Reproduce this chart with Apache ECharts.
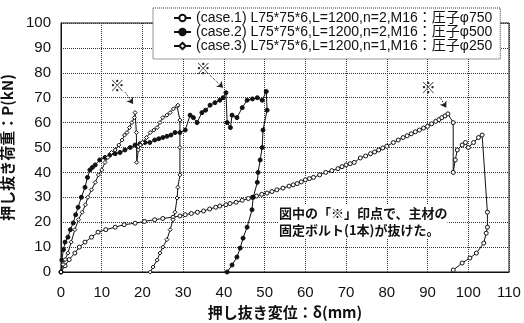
<!DOCTYPE html>
<html>
<head>
    <meta charset="utf-8">
    <title>押し抜き荷重-変位</title>
    <script src="https://cdn.jsdelivr.net/npm/echarts@6/dist/echarts.min.js"></script>
    <style>
        html, body { margin: 0; padding: 0; background: #ffffff; }
        #main { width: 524px; height: 323px; }
    </style>
</head>
<body>
<div id="main"></div>
<script>
    // case.1 : 圧子φ750 (long curve, open circles)
    var case1X = [0, 1, 2, 3.4, 4.5, 5.9, 7.5, 9.1, 11, 13.3, 15.5, 18.2, 20.5, 23, 25, 27.5, 29.2, 30.5, 32, 33.5, 35, 36.5, 38, 39,
        40.5, 41.5, 43, 44.5, 46, 47, 48, 49.3, 50.6, 51.8, 53, 54.5, 56, 57, 58, 59, 60, 61, 62, 63.5, 65, 66.5, 68, 69, 70, 71,
        72, 73.5, 74.8, 76, 77, 78, 79, 80, 81.6, 82.8, 84, 85, 86, 87, 88, 89, 90, 91, 92, 92.8, 93.5, 94.3, 95,
        96.3, 96.3, 96.8, 97.3, 98.5, 99.3, 100, 101.3, 102.5, 103.4,
        104.7, 104.7, 104.4, 103.8, 102, 100.4, 98.5, 96.3];
    var case1Y = [0, 2.5, 5, 7.6, 10, 12, 14, 16, 17, 18, 19, 19.6, 20.3, 21, 21.5, 22, 22.5, 23, 23.5, 24, 24.5, 25.3, 26, 26.5,
        27, 27.5, 28, 28.8, 29.5, 30, 30.5, 31.2, 31.7, 32.3, 33, 33.7, 34.5, 35, 35.5, 36.2, 37, 37.5, 38, 39, 40, 40.7, 41.5, 42.3, 43, 43.5,
        44, 45.8, 46.6, 47.5, 48.2, 49, 49.8, 50.5, 52, 53, 54, 54.7, 55.5, 56.3, 57, 57.8, 58.5, 59.5, 60.5, 61.2, 62, 62.7, 63.5,
        60, 40, 45, 49, 51, 52, 50, 52, 54, 55,
        24, 18, 15.6, 11.6, 7.6, 5.6, 3.6, 0.8];

    // case.2 : 圧子φ500 (filled circles)
    var case2X = [0, 0.2, 0.6, 1, 1.7, 2.3, 3, 3.6, 4.2, 5, 5.9, 6.5, 7.1, 7.7, 8.4, 9.5, 10.8, 12, 13.3, 14.5, 15.7, 17, 18.2,
        19.4, 20.6, 21.8, 23, 24, 25, 26, 27, 28, 29.2, 30.5, 31.7, 32.5, 33.4, 34.6, 35.5, 36.6, 37.8, 39, 39.8, 40.5,
        40.8, 41.6, 42, 43.2, 44.5, 45.7, 47, 48.2, 49.4, 50.4,
        50.6, 49.6, 49.4, 48.9, 48.4, 48.2, 47.2, 46.9, 45.7, 44.7, 44, 43.2, 42, 40.8];
    var case2Y = [0, 4.8, 9, 12, 14, 17, 19.7, 23, 26, 30, 34, 38, 41, 42, 43, 45, 46, 47, 47.5, 48, 49, 50, 51,
        51.5, 52, 52, 53, 53.5, 54, 54.5, 55, 56, 56, 57, 63, 62, 60, 64, 65, 67, 68, 69, 70, 72,
        60, 58, 63, 62, 66, 69, 69.5, 70, 69, 72.5,
        65, 57, 50, 45, 40, 36, 30, 25, 18, 13.6, 9.6, 6, 2.8, 0];

    // case.3 : 圧子φ250 (short curve, open diamonds)
    var case3X = [0, 0.5, 1, 1.7, 2.5, 3.4, 4.3, 5.2, 6, 6.6, 7.5, 8.4, 9.2, 10, 10.8, 11.5, 12.4, 13.3, 14.2, 15, 15.6, 16.2,
        16.8, 17.4, 18, 18.2, 18.5, 18.6, 19, 19.5, 20, 21, 21.9, 22.8, 23.6, 24.3, 25, 26, 26.8, 27.6, 28.5, 28.7,
        29.2, 29.2, 29.2, 28.7, 28.5, 28, 27.5, 26.8, 26, 25, 24.3, 23.6, 22.6, 21.9];
    var case3Y = [0, 3, 5, 7.6, 12, 17, 21, 24, 27, 30, 33, 36, 39, 41, 44, 46, 48, 49, 51, 53, 55, 56,
        58, 60, 62, 64, 56, 44, 49, 51, 52, 54, 56, 57, 58, 60, 62, 63, 64, 65.5, 66.5, 67,
        61, 50, 39, 34, 29.7, 24, 21, 17, 13, 10, 7.6, 4.8, 2, 0];

    var legendNames = [
        '(case.1) L75*75*6,L=1200,n=2,M16：圧子φ750',
        '(case.2) L75*75*6,L=1200,n=2,M16：圧子φ500',
        '(case.3) L75*75*6,L=1200,n=1,M16：圧子φ250'
    ];

    // ※ marks: [text x, text y, arrow from x, from y, arrow to x, to y]
    var noteMarks = [
        [13.8, 75, 15.7, 72.3, 17.7, 67.5],
        [34.9, 82, 36.6, 79, 39.8, 74],
        [90.2, 74, 93.1, 70, 94.6, 66]
    ];
    var noteText = '図中の「※」印点で、主材の\n固定ボルト(1本)が抜けた。';

    function pairs(xs, ys) {
        return xs.map(function (x, i) { return [x, ys[i]]; });
    }

    var chart = echarts.init(document.getElementById('main'));
    var font = '"Liberation Sans", "Noto Sans CJK JP", Arial, sans-serif';
    var cjk = '"Noto Sans CJK JP", "Liberation Sans", sans-serif';

    function lineSeries(name, data, symbol, fill) {
        return {
            name: name,
            type: 'line',
            data: data,
            symbol: symbol,
            symbolSize: 4,
            showAllSymbol: true,
            animation: false,
            lineStyle: { color: '#111', width: 1 },
            itemStyle: { color: fill, borderColor: '#111', borderWidth: 1 }
        };
    }

    var series = [
        lineSeries(legendNames[0], pairs(case1X, case1Y), 'circle', '#fff'),
        lineSeries(legendNames[1], pairs(case2X, case2Y), 'circle', '#111'),
        lineSeries(legendNames[2], pairs(case3X, case3Y), 'diamond', '#fff')
    ];

    // ※ marks and arrows
    series.push({
        type: 'line',
        data: [],
        silent: true,
        animation: false,
        markPoint: {
            symbol: 'circle',
            symbolSize: 0,
            label: { show: true, formatter: '※', color: '#222', fontSize: 15, fontFamily: cjk },
            data: noteMarks.map(function (m) { return { coord: [m[0], m[1]] }; })
        },
        markLine: {
            symbol: ['none', 'arrow'],
            symbolSize: 6,
            label: { show: false },
            lineStyle: { color: '#222', type: 'dotted', width: 1 },
            data: noteMarks.map(function (m) {
                return [{ coord: [m[2], m[3]] }, { coord: [m[4], m[5]] }];
            })
        }
    });

    var option = {
        backgroundColor: '#fff',
        animation: false,
        grid: {
            left: 61, right: 15, top: 23, bottom: 51,
            outerBoundsMode: 'none',
            show: true, borderColor: '#111', borderWidth: 1
        },
        legend: {
            data: legendNames,
            orient: 'vertical',
            left: 153,
            top: 8,
            padding: [3, 8, 6, 20],
            itemWidth: 17,
            itemHeight: 8,
            itemGap: 0,
            backgroundColor: '#fff',
            borderColor: '#333',
            borderWidth: 1,
            borderType: 'dotted',
            textStyle: { color: '#111', fontSize: 14, fontFamily: font, lineHeight: 14 }
        },
        xAxis: {
            type: 'value',
            min: 0, max: 110, interval: 10,
            name: '押し抜き変位：δ(mm)',
            nameLocation: 'middle',
            nameGap: 32,
            nameTextStyle: { color: '#111', fontSize: 15, fontWeight: 'bold', fontFamily: cjk },
            axisLine: { lineStyle: { color: '#111' } },
            axisTick: { show: false },
            axisLabel: { color: '#111', fontSize: 15, fontFamily: font, margin: 13 },
            splitLine: { lineStyle: { color: '#333', type: 'dotted' } }
        },
        yAxis: {
            type: 'value',
            min: 0, max: 100, interval: 10,
            name: '押し抜き荷重：P(kN)',
            nameLocation: 'middle',
            nameGap: 33,
            nameTextStyle: { color: '#111', fontSize: 15, fontWeight: 'bold', fontFamily: cjk },
            axisLine: { show: true, lineStyle: { color: '#111' } },
            axisTick: { show: false },
            axisLabel: { color: '#111', fontSize: 15, fontFamily: font, margin: 10 },
            splitLine: { lineStyle: { color: '#333', type: 'dotted' } }
        },
        graphic: [{
            type: 'text',
            left: 279,
            top: 205,
            z: 10,
            style: {
                text: noteText,
                fill: '#111',
                font: 'bold 13px ' + cjk,
                lineHeight: 17,
                backgroundColor: '#fff'
            }
        }],
        series: series
    };
    chart.setOption(option);

    window.onresize = function () {
        chart.resize();
    };
</script>
</body>
</html>
